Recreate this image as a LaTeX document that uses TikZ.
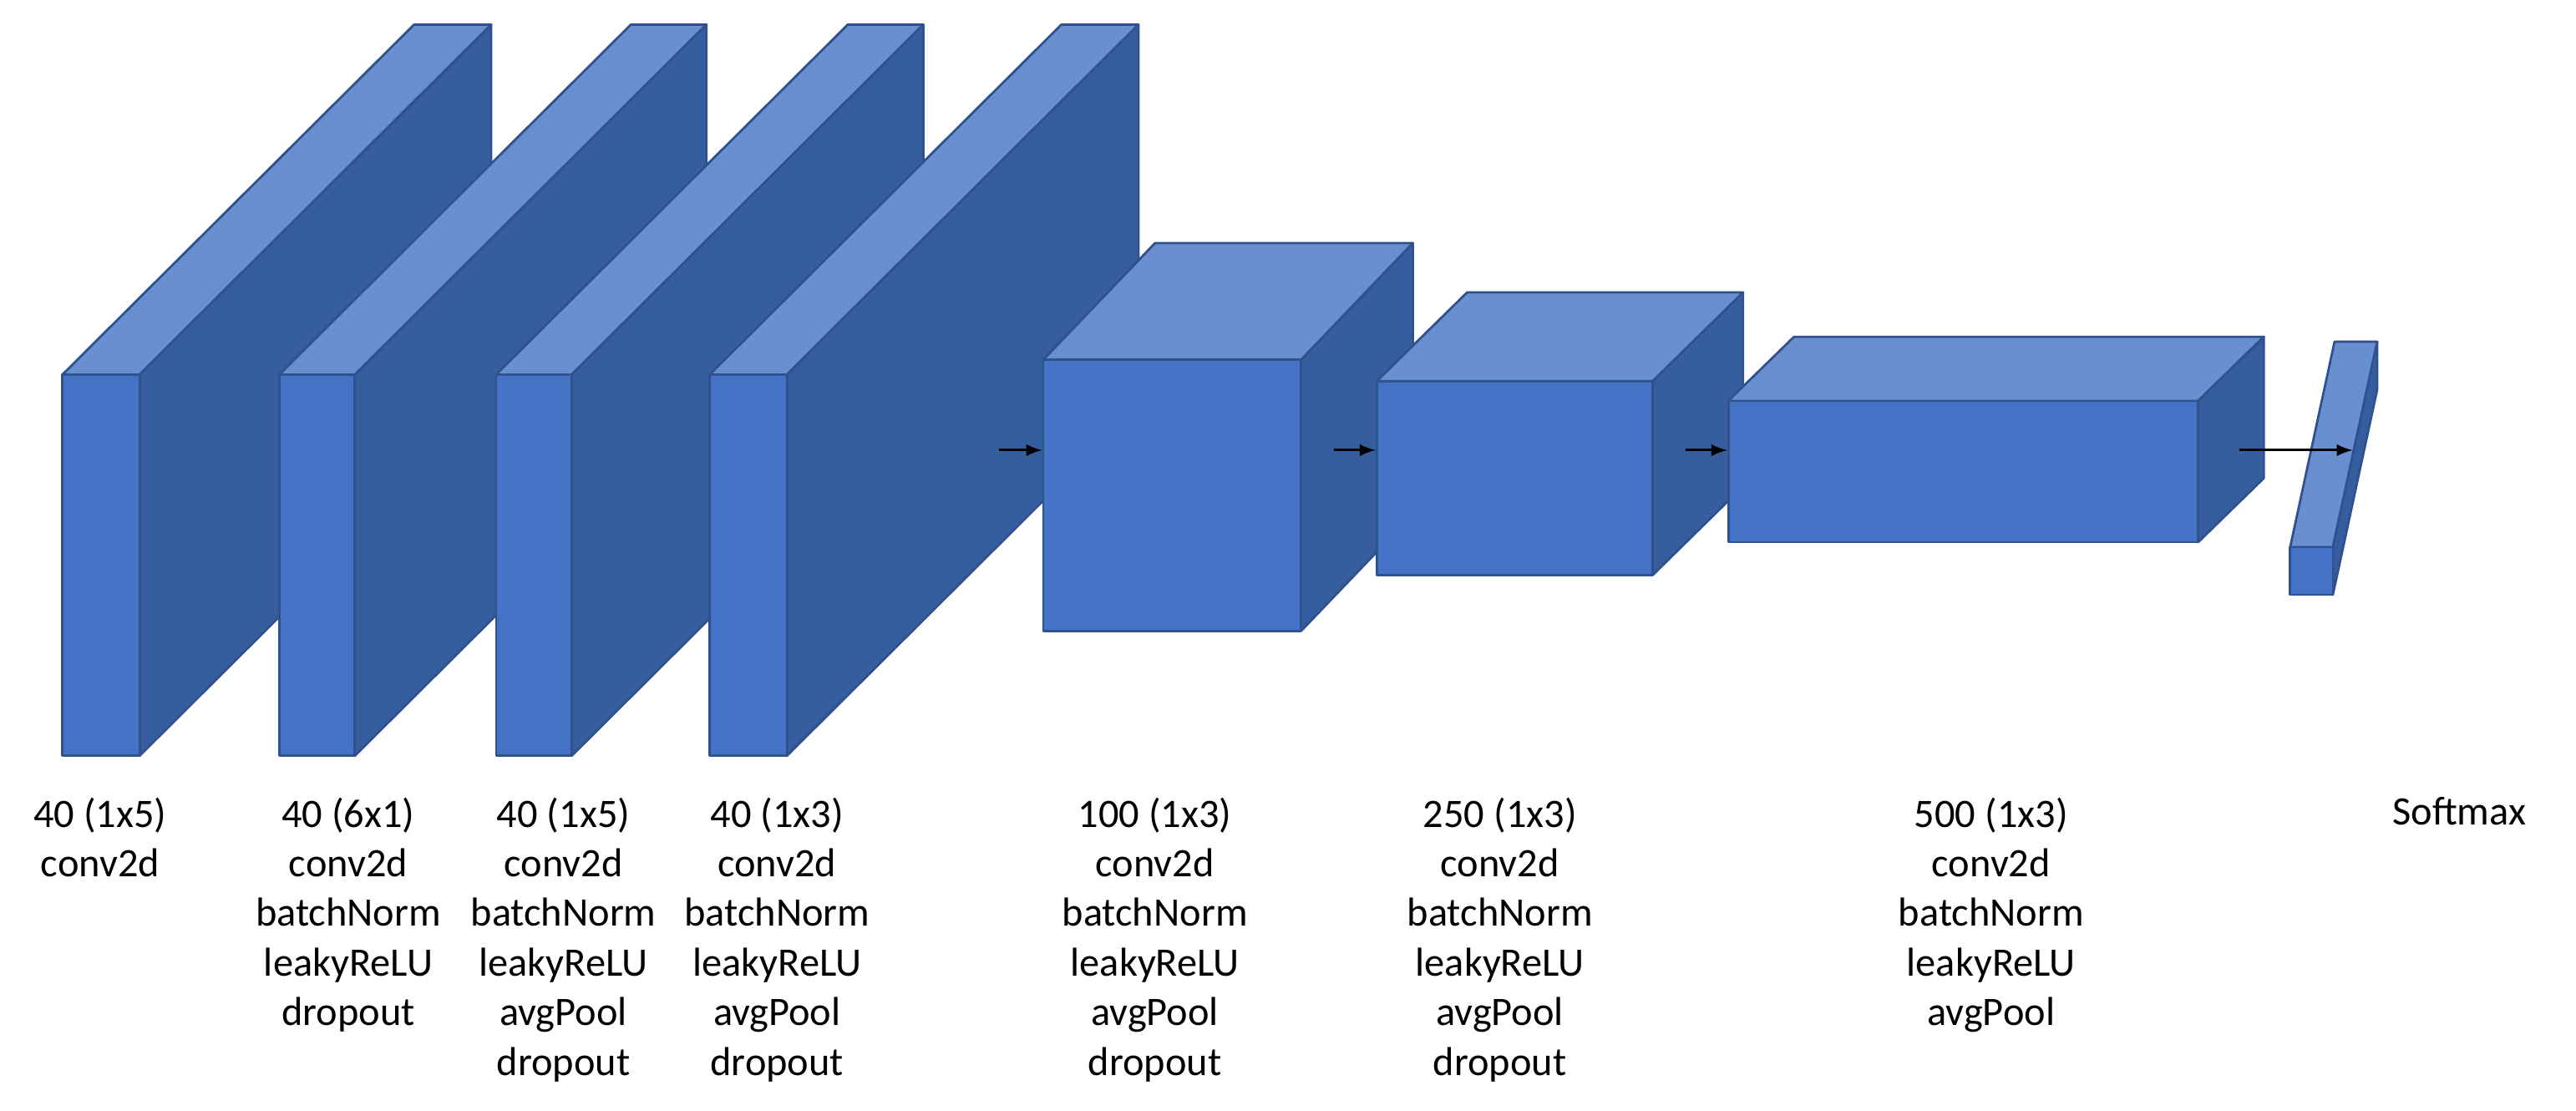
\documentclass[tikz,border=0pt]{standalone}
\usepackage{fontspec}
\setmainfont{Carlito}
\definecolor{fr}{HTML}{4472C4}
\definecolor{tp}{HTML}{6A8FD0}
\definecolor{sd}{HTML}{365E9E}
\definecolor{ed}{HTML}{2F528F}
\begin{document}
\begin{tikzpicture}[x=0.02cm,y=-0.02cm,
  face/.style={draw=ed,line width=0.8pt,line join=round},
  lab/.style={align=center,font=\fontsize{14}{17.2}\selectfont,anchor=north,inner sep=0pt},
  arr/.style={-latex,line width=0.9pt}]
\useasboundingbox (0,0) rectangle (1568,676);
\newcommand\cub[7]{% name x1 x2 y1 y2 dx dy
  \fill[tp,face] (#2,#4) -- ({#2+#6},{#4-#7}) -- ({#3+#6},{#4-#7}) -- (#3,#4) -- cycle;
  \fill[sd,face] (#3,#4) -- ({#3+#6},{#4-#7}) -- ({#3+#6},{#5-#7}) -- (#3,#5) -- cycle;
  \node[face,fill=fr,inner sep=0pt,minimum width={(#3-#2)*0.02cm},minimum height={(#5-#4)*0.02cm}] (#1) at ({(#2+#3)/2},{(#4+#5)/2}) {};
}
\cub{b1}{38}{85}{228}{460}{214}{213}
\cub{b2}{170}{216}{228}{460}{214}{213}
\cub{b3}{302}{348}{228}{460}{214}{213}
\cub{b4}{432}{479}{228}{460}{214}{213}
\cub{b5}{635}{792}{219}{384}{68}{71}
\cub{b6}{838}{1006}{232}{350}{55}{54}
\cub{b7}{1052}{1338}{244}{330}{40}{39}
\cub{b8}{1394}{1420}{333}{362}{27}{125}
\coordinate (a5) at (608,274);
\coordinate (a6) at (812,274);
\coordinate (a7) at (1026,274);
\coordinate (a8s) at (1363,274);
\coordinate (a8e) at (1432,274);
\draw[arr] (a5) -- (b5.west|-a5);
\draw[arr] (a6) -- (b6.west|-a6);
\draw[arr] (a7) -- (b7.west|-a7);
\draw[arr] (a8s) -- (a8e);
\node[lab] (l1) at (61,485) {40 (1x5)\\conv2d};
\node[lab] (l2) at (212,485) {40 (6x1)\\conv2d\\batchNorm\\leakyReLU\\dropout};
\node[lab] (l3) at (343,485) {40 (1x5)\\conv2d\\batchNorm\\leakyReLU\\avgPool\\dropout};
\node[lab] (l4) at (473,485) {40 (1x3)\\conv2d\\batchNorm\\leakyReLU\\avgPool\\dropout};
\node[lab] (l5) at (703,485) {100 (1x3)\\conv2d\\batchNorm\\leakyReLU\\avgPool\\dropout};
\node[lab] (l6) at (913,485) {250 (1x3)\\conv2d\\batchNorm\\leakyReLU\\avgPool\\dropout};
\node[lab] (l7) at (1212,485) {500 (1x3)\\conv2d\\batchNorm\\leakyReLU\\avgPool};
\node[lab] (l8) at (1497,485) {Softmax};
\end{tikzpicture}
\end{document}
